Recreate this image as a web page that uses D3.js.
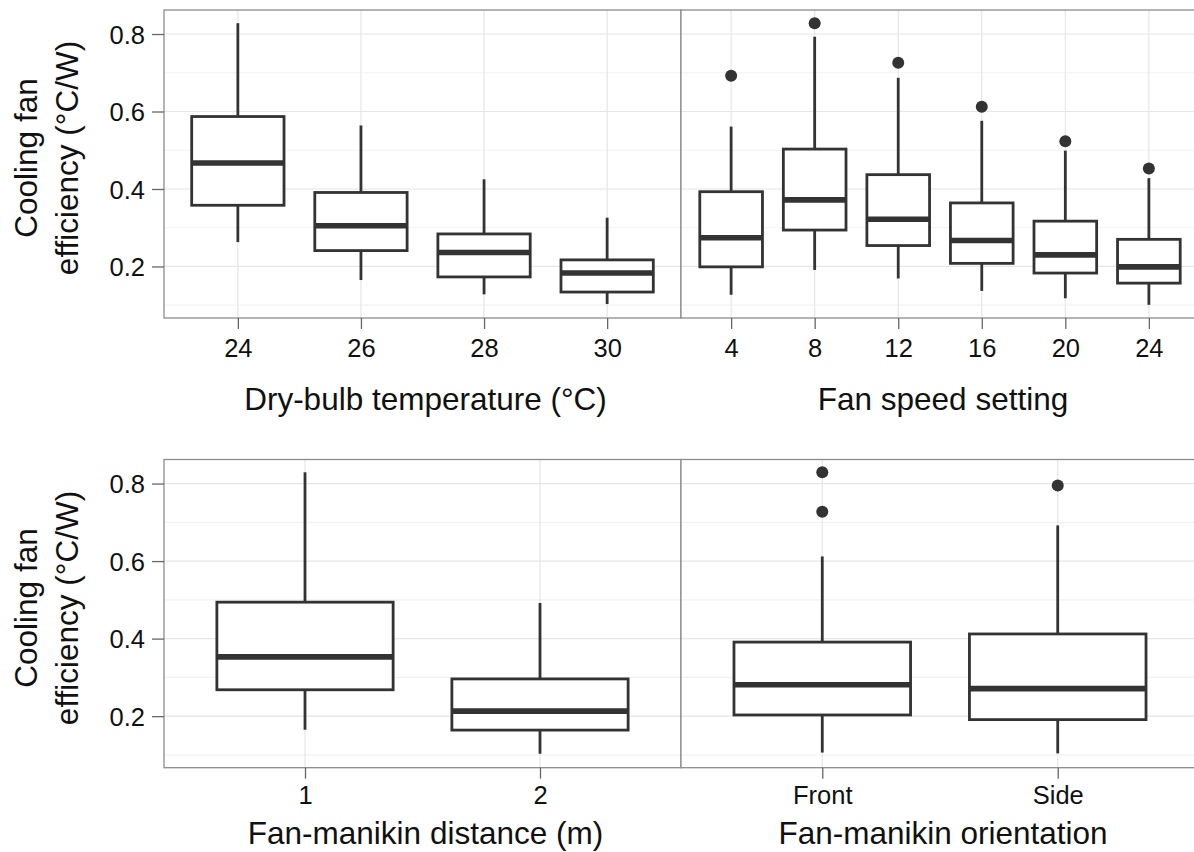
<!DOCTYPE html>
<html>
<head>
<meta charset="utf-8">
<script src="https://cdn.jsdelivr.net/npm/d3@7"></script>
<style>
  html, body { margin: 0; padding: 0; background: #fff; overflow: hidden; }
  svg { display: block; font-family: "Liberation Sans", Arial, Helvetica, sans-serif; }
</style>
</head>
<body>
<svg id="chart" width="1194" height="852"></svg>
<script>
// ---- Data ----
const yTicks = [0.2, 0.4, 0.6, 0.8];
const yMinorTicks = [0.1, 0.3, 0.5, 0.7];
const yTitleLines = ["Cooling fan", "efficiency (°C/W)"];

const tempLabels = ["24", "26", "28", "30"];
const tempLower  = [0.263, 0.165, 0.128, 0.103];
const tempQ1     = [0.358, 0.241, 0.173, 0.134];
const tempMedian = [0.467, 0.305, 0.236, 0.183];
const tempQ3     = [0.587, 0.391, 0.284, 0.217];
const tempUpper  = [0.828, 0.564, 0.425, 0.326];
const tempOutliers = [[], [], [], []];
const tempTitle = "Dry-bulb temperature (°C)";

const speedLabels = ["4", "8", "12", "16", "20", "24"];
const speedLower  = [0.127, 0.191, 0.169, 0.137, 0.118, 0.101];
const speedQ1     = [0.199, 0.294, 0.254, 0.208, 0.183, 0.157];
const speedMedian = [0.274, 0.372, 0.322, 0.267, 0.230, 0.199];
const speedQ3     = [0.393, 0.503, 0.437, 0.364, 0.317, 0.270];
const speedUpper  = [0.561, 0.793, 0.687, 0.576, 0.499, 0.428];
const speedOutliers = [[0.692], [0.828], [0.726], [0.612], [0.523], [0.453]];
const speedTitle = "Fan speed setting";

const distLabels = ["1", "2"];
const distLower  = [0.165, 0.103];
const distQ1     = [0.268, 0.164];
const distMedian = [0.353, 0.213];
const distQ3     = [0.494, 0.296];
const distUpper  = [0.829, 0.492];
const distOutliers = [[], []];
const distTitle = "Fan-manikin distance (m)";

const orientLabels = ["Front", "Side"];
const orientLower  = [0.106, 0.104];
const orientQ1     = [0.203, 0.191];
const orientMedian = [0.281, 0.271];
const orientQ3     = [0.391, 0.412];
const orientUpper  = [0.612, 0.692];
const orientOutliers = [[0.829, 0.727], [0.795]];
const orientTitle = "Fan-manikin orientation";

// ---- Layout ----
const svg = d3.select("#chart");
const yDomain = [0.067, 0.862];
const ink = "#333333";

function build(labels, lower, q1, med, q3, upper, outliers) {
  return labels.map((l, i) => ({ label: l, lower: lower[i], q1: q1[i], median: med[i], q3: q3[i], upper: upper[i], outliers: outliers[i] }));
}

const panels = [
  { x0: 164, x1: 681, y0: 10, y1: 318, data: build(tempLabels, tempLower, tempQ1, tempMedian, tempQ3, tempUpper, tempOutliers), title: tempTitle, tickBase: 357, titleBase: 410, yaxis: true, yTitleCenter: 158 },
  { x0: 681, x1: 1199, y0: 10, y1: 318, data: build(speedLabels, speedLower, speedQ1, speedMedian, speedQ3, speedUpper, speedOutliers), title: speedTitle, tickBase: 357, titleBase: 410, yaxis: false },
  { x0: 164, x1: 681, y0: 459.5, y1: 767.7, data: build(distLabels, distLower, distQ1, distMedian, distQ3, distUpper, distOutliers), title: distTitle, tickBase: 804, titleBase: 844, yaxis: true, yTitleCenter: 608 },
  { x0: 681, x1: 1199, y0: 459.5, y1: 767.7, data: build(orientLabels, orientLower, orientQ1, orientMedian, orientQ3, orientUpper, orientOutliers), title: orientTitle, tickBase: 804, titleBase: 844, yaxis: false }
];

panels.forEach(p => {
  const x = d3.scalePoint().domain(p.data.map(d => d.label)).range([p.x0, p.x1]).padding(0.6);
  const y = d3.scaleLinear().domain(yDomain).range([p.y1, p.y0]);
  const bw = x.step() * 0.75;
  const g = svg.append("g");

  g.append("rect").attr("x", p.x0).attr("y", p.y0).attr("width", p.x1 - p.x0).attr("height", p.y1 - p.y0).attr("fill", "#fff");

  g.selectAll(".minor").data(yMinorTicks).enter().append("line")
    .attr("x1", p.x0).attr("x2", p.x1).attr("y1", d => y(d)).attr("y2", d => y(d))
    .attr("stroke", "#f2f2f2").attr("stroke-width", 1.2);
  g.selectAll(".majorY").data(yTicks).enter().append("line")
    .attr("x1", p.x0).attr("x2", p.x1).attr("y1", d => y(d)).attr("y2", d => y(d))
    .attr("stroke", "#e6e6e6").attr("stroke-width", 1.2);
  g.selectAll(".majorX").data(p.data).enter().append("line")
    .attr("x1", d => x(d.label)).attr("x2", d => x(d.label)).attr("y1", p.y0).attr("y2", p.y1)
    .attr("stroke", "#e6e6e6").attr("stroke-width", 1.2);

  const b = g.selectAll(".box").data(p.data).enter().append("g");
  b.append("line").attr("x1", d => x(d.label)).attr("x2", d => x(d.label))
    .attr("y1", d => y(d.upper)).attr("y2", d => y(d.q3)).attr("stroke", ink).attr("stroke-width", 2.8);
  b.append("line").attr("x1", d => x(d.label)).attr("x2", d => x(d.label))
    .attr("y1", d => y(d.q1)).attr("y2", d => y(d.lower)).attr("stroke", ink).attr("stroke-width", 2.8);
  b.append("rect").attr("x", d => x(d.label) - bw / 2).attr("width", bw)
    .attr("y", d => y(d.q3)).attr("height", d => y(d.q1) - y(d.q3))
    .attr("fill", "#fff").attr("stroke", ink).attr("stroke-width", 2.8);
  b.append("line").attr("x1", d => x(d.label) - bw / 2).attr("x2", d => x(d.label) + bw / 2)
    .attr("y1", d => y(d.median)).attr("y2", d => y(d.median)).attr("stroke", ink).attr("stroke-width", 5.6);
  b.selectAll("circle").data(d => d.outliers.map(v => ({ label: d.label, v }))).enter().append("circle")
    .attr("cx", d => x(d.label)).attr("cy", d => y(d.v)).attr("r", 6).attr("fill", ink);

  g.append("rect").attr("x", p.x0).attr("y", p.y0).attr("width", p.x1 - p.x0).attr("height", p.y1 - p.y0)
    .attr("fill", "none").attr("stroke", "#8c8c8c").attr("stroke-width", 1.3);

  const xa = g.append("g").attr("transform", `translate(0,${p.y1})`)
    .call(d3.axisBottom(x).tickSizeInner(11).tickSizeOuter(0).tickPadding(0));
  xa.select(".domain").remove();
  xa.selectAll(".tick line").attr("stroke", "#666").attr("stroke-width", 1.3);
  xa.selectAll(".tick text").attr("y", p.tickBase - p.y1).attr("dy", null)
    .attr("font-size", "25.5px").attr("fill", "#111").style("font-family", '"Liberation Sans", Arial, sans-serif');

  g.append("text").attr("x", (p.x0 + p.x1) / 2 + 3).attr("y", p.titleBase)
    .attr("text-anchor", "middle").attr("font-size", "31.5px").attr("fill", "#111").text(p.title);

  if (p.yaxis) {
    const ya = g.append("g").attr("transform", `translate(${p.x0},0)`)
      .call(d3.axisLeft(y).tickValues(yTicks).tickFormat(d3.format(".1f")).tickSizeInner(12).tickSizeOuter(0).tickPadding(7));
    ya.select(".domain").remove();
    ya.selectAll(".tick line").attr("stroke", "#666").attr("stroke-width", 1.3);
    ya.selectAll(".tick text").attr("font-size", "25.5px").attr("fill", "#111").attr("dy", "0.36em")
      .style("font-family", '"Liberation Sans", Arial, sans-serif');

    const t = g.append("text").attr("transform", `translate(0,${p.yTitleCenter}) rotate(-90)`)
      .attr("text-anchor", "middle").attr("font-size", "31.5px").attr("fill", "#111");
    t.selectAll("tspan").data(yTitleLines).enter().append("tspan")
      .attr("x", 0).attr("y", (d, i) => i === 0 ? 37 : 78).text(d => d);
  }
});
</script>
</body>
</html>
